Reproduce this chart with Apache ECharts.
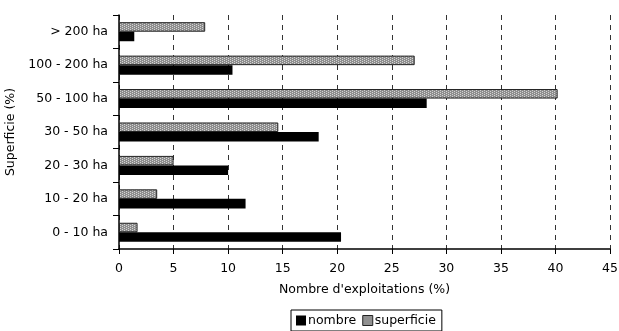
<!DOCTYPE html>
<html><head><meta charset="utf-8">
<script src="https://cdn.jsdelivr.net/npm/echarts@6/dist/echarts.min.js"></script>
<style>html,body{margin:0;padding:0;background:#fff}#c{width:619px;height:331px}</style>
</head><body><div id="c"></div>
<script>
var categories = ['0 - 10 ha','10 - 20 ha','20 - 30 ha','30 - 50 ha','50 - 100 ha','100 - 200 ha','> 200 ha'];
var nombre = [20.35, 11.6, 10.0, 18.3, 28.2, 10.4, 1.4];
var superficie = [1.7, 3.5, 5.0, 14.6, 40.2, 27.1, 7.9];
var xTicks = [0,5,10,15,20,25,30,35,40,45];

var cv = document.createElement('canvas');
cv.width = 4; cv.height = 2;
var cx = cv.getContext('2d');
cx.fillStyle = '#8e8e8e'; cx.fillRect(0,0,4,2);
cx.fillStyle = '#d4d4d4'; cx.fillRect(0,0,1,1); cx.fillRect(2,1,1,1);
var pattern = {image: cv, repeat: 'repeat'};

var font = 'DejaVu Sans, Verdana, sans-serif';
var chart = echarts.init(document.getElementById('c'));
chart.setOption({
  animation: false,
  textStyle: {fontFamily: font},
  grid: {left: 119, right: 9, top: 15, bottom: 82, containLabel: false, outerBoundsMode: 'none'},
  xAxis: {
    type: 'value', min: 0, max: 45, interval: 5,
    name: "Nombre d'exploitations (%)", nameLocation: 'middle', nameGap: 34,
    nameTextStyle: {color: '#000', fontSize: 12.5, fontFamily: font},
    axisLine: {show: true, lineStyle: {color: '#000', width: 1.5}},
    axisTick: {show: true, length: 5, lineStyle: {color: '#000'}},
    axisLabel: {color: '#000', fontSize: 12.5, margin: 13, fontFamily: font,
      formatter: function(v){ return xTicks.indexOf(v) >= 0 ? String(v) : ''; }},
    splitLine: {show: true, lineStyle: {color: '#333', type: [5,5], width: 1}}
  },
  yAxis: {
    type: 'category', data: categories,
    name: 'Superficie (%)', nameLocation: 'middle', nameRotate: 90, nameGap: 95,
    nameTextStyle: {color: '#000', fontSize: 12.5, fontFamily: font},
    axisLine: {show: true, lineStyle: {color: '#000', width: 1.5}},
    axisTick: {show: true, length: 6, inside: false, lineStyle: {color: '#000'}},
    axisLabel: {color: '#000', fontSize: 12.5, margin: 11, fontFamily: font},
    splitLine: {show: false}
  },
  legend: {
    bottom: 0, left: 291, itemWidth: 10, itemHeight: 10, itemGap: 6,
    borderColor: '#000', borderWidth: 1, padding: [4, 6, 4, 5],
    textStyle: {color: '#000', fontSize: 12.5, fontFamily: font, padding: [0,0,0,-3]},
    data: [
      {name: 'nombre', icon: 'rect', itemStyle: {color: '#000', borderWidth: 0}},
      {name: 'superficie', icon: 'rect', itemStyle: {color: '#909090', borderColor: '#222', borderWidth: 1}}
    ]
  },
  series: [
    {name: 'superficie', type: 'bar', data: superficie, barGap: '0%', barCategoryGap: '43%',
     itemStyle: {color: pattern, borderColor: '#222', borderWidth: 1}},
    {name: 'nombre', type: 'bar', data: nombre, barGap: '0%', barCategoryGap: '43%',
     itemStyle: {color: '#000'}}
  ]
});
</script></body></html>
